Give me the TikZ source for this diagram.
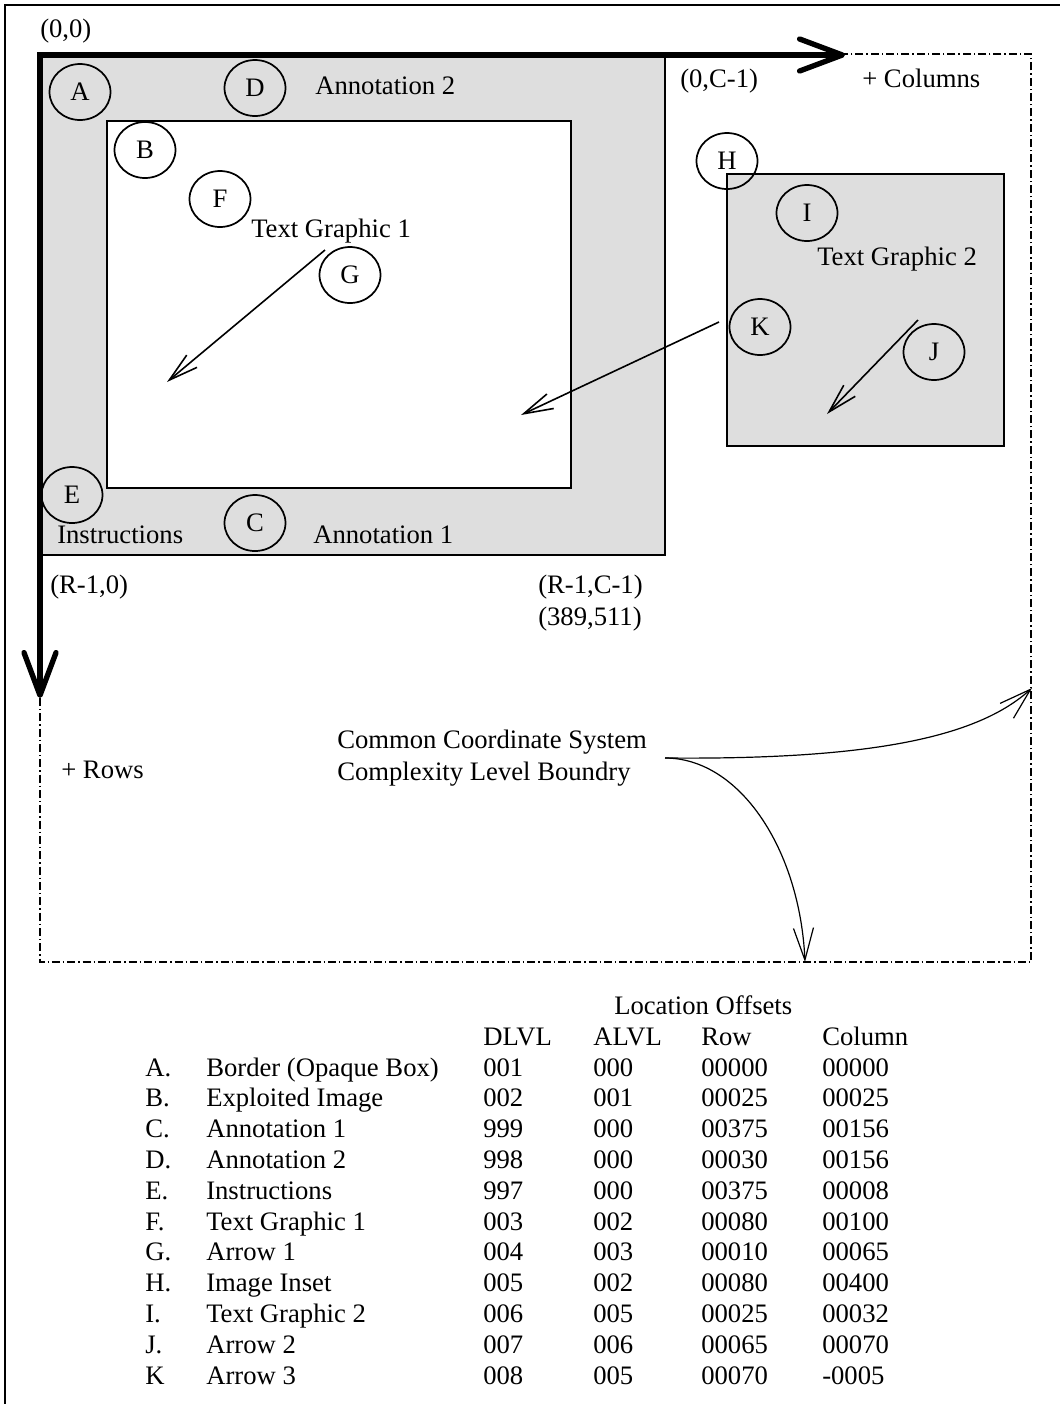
\documentclass[tikz,border=0pt]{standalone}
\usepackage{fontspec}
\setmainfont{Liberation Serif}
\usetikzlibrary{arrows.meta,shapes.geometric}
\definecolor{boxgray}{RGB}{222,222,222}
\begin{document}
\begin{tikzpicture}[x=0.75pt,y=-0.75pt,
  txt/.style={anchor=base west, inner sep=0pt, font=\fontsize{20}{24}\selectfont},
  callout/.style={draw, ellipse, line width=1.3pt, minimum width=45.75pt, minimum height=42pt, inner sep=0pt, font=\fontsize{20}{24}\selectfont},
  thinarrow/.style={line width=1.2pt, -{Straight Barb[length=22pt,width=12pt]}},
  curvearrow/.style={line width=0.9pt, -{Straight Barb[length=24pt,width=15pt]}},
  axisline/.style={line width=4pt, line join=miter, {Straight Barb[length=32pt,width=24pt,round]}-{Straight Barb[length=32pt,width=24pt,round]}},
  boundary/.style={line width=1.2pt, dash pattern=on 6pt off 2.2pt on 1.1pt off 2.2pt},
  panel/.style={fill=boxgray, draw=black, line width=1.5pt}]
\useasboundingbox (0,0) rectangle (1060,1404);
% outer frame (left and top)
\draw[line width=1.5pt] (5,1404) -- (5,5) -- (1060,5);
% complexity level boundary
\draw[boundary] (40,54) rectangle (1031,962);
% border box and exploited image
\filldraw[panel] (40,55) rectangle (665,555);
\filldraw[fill=white, draw=black, line width=1.5pt] (107,121) rectangle (571,488);
% image inset
\filldraw[panel] (727,174) rectangle (1004,446);
% axes
\coordinate (origin) at (40,55);
\coordinate (colend) at (845,55);
\coordinate (rowend) at (40,698);
\draw[axisline] (colend) -- (origin) -- (rowend);
% callouts
\node[callout] (A) at (80,92) {A};
\node[callout] (D) at (255,88) {D};
\node[callout] (B) at (145,150) {B};
\node[callout] (F) at (220,199) {F};
\node[callout] (G) at (350,275) {G};
\node[callout] (H) at (727,161) {H};
\node[callout] (I) at (807,213) {I};
\node[callout] (K) at (760,327) {K};
\node[callout] (J) at (934,352) {J};
\node[callout] (E) at (72,495) {E};
\node[callout] (C) at (255,523) {C};
% labels
\node[txt] (l00) at (40,37) {(0,0)};
\node[txt] (ann2) at (315,94) {Annotation 2};
\node[txt] (l0c) at (680,87) {(0,C-1)};
\node[txt] (pcol) at (862,87) {+ Columns};
\node[txt] (tg1) at (251,237) {Text Graphic 1};
\node[txt] (tg2) at (817,265) {Text Graphic 2};
\node[txt] (instr) at (57,543) {Instructions};
\node[txt] (ann1) at (313,543) {Annotation 1};
\node[txt] (lr0) at (50,593) {(R-1,0)};
\node[txt] (lrc) at (538,593) {(R-1,C-1)};
\node[txt] (lnum) at (538,625) {(389,511)};
\node[txt] (prow) at (61,778) {+ Rows};
\node[txt] (ccs1) at (337,748) {Common Coordinate System};
\node[txt] (ccs2) at (337,780) {Complexity Level Boundry};
% arrows inside the picture
\coordinate (g1s) at (325,250); \coordinate (g1e) at (167,382);
\coordinate (k3s) at (719,322); \coordinate (k3e) at (521,415);
\coordinate (j2s) at (918,320); \coordinate (j2e) at (827,414);
\draw[thinarrow] (g1s) -- (g1e);
\draw[thinarrow] (k3s) -- (k3e);
\draw[thinarrow] (j2s) -- (j2e);
% boundary pointers
\coordinate (cstart) at (665,758);
\coordinate (cright) at (1032,688);
\coordinate (cdown) at (805,962);
\draw[curvearrow] (cstart) .. controls (880,760) and (980,735) .. (cright);
\draw[curvearrow] (cstart) .. controls (740,758) and (800,850) .. (cdown);
% table
\node[txt] (lochead) at (614,1014) {Location Offsets};
\node[txt] (hd) at (483,1045) {DLVL};
\node[txt] (ha) at (593,1045) {ALVL};
\node[txt] (hr) at (701,1045) {Row};
\node[txt] (hc) at (822,1045) {Column};
\foreach \l/\n/\d/\a/\r/\c [count=\i] in {
  A./Border (Opaque Box)/001/000/00000/00000,
  B./Exploited Image/002/001/00025/00025,
  C./Annotation 1/999/000/00375/00156,
  D./Annotation 2/998/000/00030/00156,
  E./Instructions/997/000/00375/00008,
  F./Text Graphic 1/003/002/00080/00100,
  G./Arrow 1/004/003/00010/00065,
  H./Image Inset/005/002/00080/00400,
  I./Text Graphic 2/006/005/00025/00032,
  J./Arrow 2/007/006/00065/00070,
  K/Arrow 3/008/005/00070/-0005}{
  \pgfmathsetmacro\yy{1076+30.8*(\i-1)}
  \node[txt] (t\i l) at (145,\yy) {\l};
  \node[txt] (t\i n) at (206,\yy) {\n};
  \node[txt] (t\i d) at (483,\yy) {\d};
  \node[txt] (t\i a) at (593,\yy) {\a};
  \node[txt] (t\i r) at (701,\yy) {\r};
  \node[txt] (t\i c) at (822,\yy) {\c};
}
\end{tikzpicture}
\end{document}
